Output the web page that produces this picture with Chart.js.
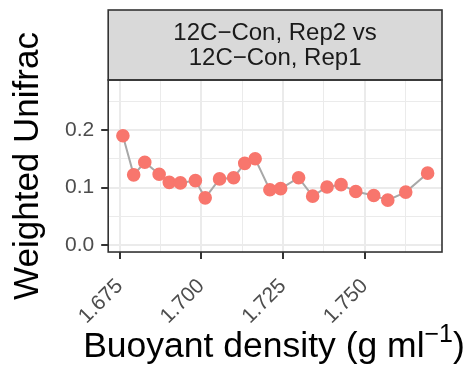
<!DOCTYPE html>
<html>
<head>
<meta charset="utf-8">
<script src="https://cdn.jsdelivr.net/npm/chart.js@4.4.1/dist/chart.umd.min.js"></script>
<style>
  html, body { margin: 0; padding: 0; background: #fff; }
  #wrap { width: 476px; height: 382px; }
</style>
</head>
<body>
<div id="wrap"><canvas id="chart" width="476" height="382"></canvas></div>
<script>
// valores
const density = [1.6760, 1.6793, 1.6827, 1.6871, 1.6902, 1.6936, 1.6982, 1.7012,
                 1.7056, 1.7099, 1.7133, 1.7165, 1.7210, 1.7243, 1.7298, 1.7341,
                 1.7385, 1.7428, 1.7473, 1.7528, 1.7571, 1.7626, 1.7693];
const unifrac = [0.190, 0.122, 0.144, 0.123, 0.109, 0.108, 0.112, 0.082,
                 0.115, 0.117, 0.142, 0.150, 0.096, 0.098, 0.117, 0.085,
                 0.101, 0.105, 0.093, 0.086, 0.078, 0.092, 0.125];
const xMajor = [1.675, 1.700, 1.725, 1.750];
const xMinor = [1.6875, 1.7125, 1.7375, 1.7625];
const yMajor = [0.0, 0.1, 0.2];
const yMinor = [0.05, 0.15, 0.25];
const stripLines = ['12C\u2212Con, Rep2 vs', '12C\u2212Con, Rep1'];

const FONT = '"Liberation Sans", Arial, sans-serif';

function buildTicks(major, minor) {
    return major.map(v => ({ value: v, isMajor: true }))
        .concat(minor.map(v => ({ value: v, isMajor: false })))
        .sort((a, b) => a.value - b.value);
}

// ** panel border, strip and x title **
const panelPlugin = {
    id: 'panel',
    afterDraw(chart) {
        const { ctx, chartArea: a } = chart;
        ctx.save();
        // strip
        const stripTop = 10;
        ctx.fillStyle = '#D9D9D9';
        ctx.fillRect(a.left, stripTop, a.right - a.left, a.top - stripTop);
        ctx.strokeStyle = '#333333';
        ctx.lineWidth = 1.6;
        ctx.strokeRect(a.left, stripTop, a.right - a.left, a.top - stripTop);
        ctx.fillStyle = '#1A1A1A';
        ctx.font = '24px ' + FONT;
        ctx.textAlign = 'center';
        ctx.textBaseline = 'alphabetic';
        const cx = (a.left + a.right) / 2;
        ctx.fillText(stripLines[0], cx, 40);
        ctx.fillText(stripLines[1], cx, 65);
        // panel border
        ctx.strokeRect(a.left, a.top, a.right - a.left, a.bottom - a.top);
        // x title with superscript
        ctx.fillStyle = '#000000';
        ctx.textAlign = 'left';
        const main = 'Buoyant density (g ml';
        const sup = '\u22121';
        const close = ')';
        ctx.font = '35.5px ' + FONT;
        const wMain = ctx.measureText(main).width;
        const wClose = ctx.measureText(close).width;
        ctx.font = '25px ' + FONT;
        const wSup = ctx.measureText(sup).width;
        const total = wMain + wSup + wClose;
        let x = 274 - total / 2;
        const base = 357;
        ctx.font = '35.5px ' + FONT;
        ctx.fillText(main, x, base);
        x += wMain;
        ctx.font = '25px ' + FONT;
        ctx.fillText(sup, x, base - 15);
        x += wSup;
        ctx.font = '35.5px ' + FONT;
        ctx.fillText(close, x, base);
        ctx.restore();
    }
};

new Chart(document.getElementById('chart'), {
    type: 'scatter',
    data: {
        datasets: [{
            data: density.map((d, i) => ({ x: d, y: unifrac[i] })),
            showLine: true,
            borderColor: '#A8A8A8',
            borderWidth: 2,
            pointBackgroundColor: '#F8766D',
            pointBorderColor: '#F8766D',
            pointRadius: 5.8,
            pointHoverRadius: 5.8
        }]
    },
    options: {
        responsive: false,
        animation: false,
        events: [],
        layout: { padding: { top: 80, right: 34, bottom: 38, left: 7 } },
        plugins: { legend: { display: false }, tooltip: { enabled: false } },
        scales: {
            x: {
                type: 'linear',
                min: 1.6715,
                max: 1.7737,
                afterBuildTicks: scale => { scale.ticks = buildTicks(xMajor, xMinor); },
                border: { display: false },
                grid: {
                    color: '#EBEBEB',
                    lineWidth: ctx => ctx.tick && ctx.tick.isMajor ? 2 : 1,
                    tickColor: ctx => ctx.tick && ctx.tick.isMajor ? '#333333' : 'rgba(0,0,0,0)',
                    tickLength: 7,
                    tickWidth: 2
                },
                ticks: {
                    autoSkip: false,
                    minRotation: 45,
                    maxRotation: 45,
                    padding: 15,
                    color: '#4D4D4D',
                    font: { family: FONT, size: 21 },
                    callback: (v, i, ticks) => ticks[i].isMajor ? v.toFixed(3) : ''
                }
            },
            y: {
                type: 'linear',
                min: -0.0122,
                max: 0.287,
                afterBuildTicks: scale => { scale.ticks = buildTicks(yMajor, yMinor); },
                border: { display: false },
                grid: {
                    color: '#EBEBEB',
                    lineWidth: ctx => ctx.tick && ctx.tick.isMajor ? 2 : 1,
                    tickColor: ctx => ctx.tick && ctx.tick.isMajor ? '#333333' : 'rgba(0,0,0,0)',
                    tickLength: 7,
                    tickWidth: 2
                },
                ticks: {
                    autoSkip: false,
                    padding: 7,
                    color: '#4D4D4D',
                    font: { family: FONT, size: 21 },
                    callback: (v, i, ticks) => ticks[i].isMajor ? v.toFixed(1) : ''
                },
                title: {
                    display: true,
                    text: 'Weighted Unifrac',
                    color: '#000000',
                    font: { family: FONT, size: 35 },
                    padding: { top: 0, bottom: 9 }
                }
            }
        }
    },
    plugins: [panelPlugin]
});
</script>
</body>
</html>
